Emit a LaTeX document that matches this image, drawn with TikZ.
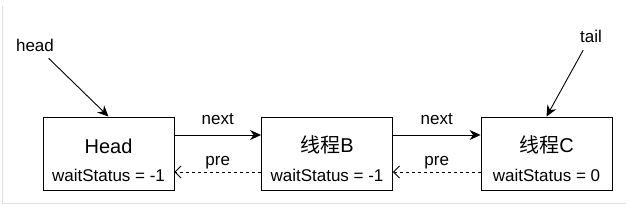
\documentclass[tikz,border=0pt]{standalone}
\usepackage{fontspec}
\setmainfont{Liberation Sans}
\newfontfamily\cjk{Noto Sans CJK SC}
\usetikzlibrary{arrows.meta}
\newcommand{\qtitle}[1]{\rule{0pt}{28pt}\fontsize{20}{24}\selectfont #1\\[14pt]}
\begin{document}
\begin{tikzpicture}[x=1pt, y=-1pt,
    qnode/.style={rectangle, draw, line width=0.9pt, minimum width=131pt,
                 minimum height=73pt, align=center, inner sep=0pt},
    nextarrow/.style={-{Stealth[length=11pt, width=10pt]}, line width=0.9pt},
    prearrow/.style={-{Straight Barb[length=6pt, width=12pt]}, dashed, line width=0.8pt},
    ptr/.style={-{Stealth[length=11pt, width=10pt]}, line width=0.9pt, shorten <=5pt},
    lbl/.style={font=\fontsize{17}{20}\selectfont}
]
    \useasboundingbox (0,0) rectangle (634,209);
    \draw[gray!25, line width=1pt] (2,6) -- (2,203) -- (626,203);

    \node[qnode] (head) at (108.5, 153.5) {\qtitle{Head}\fontsize{17}{20}\selectfont waitStatus = -1};
    \node[qnode] (thrB) at (327,   153.5) {\qtitle{{\cjk 线程}B}\fontsize{17}{20}\selectfont waitStatus = -1};
    \node[qnode] (thrC) at (546.5, 153.5) {\qtitle{{\cjk 线程}C}\fontsize{17}{20}\selectfont waitStatus = 0};

    \node[lbl] (headlbl) at (35, 45) {head};
    \node[lbl] (taillbl) at (591, 36) {tail};

    \draw[ptr] (headlbl) -- (head.north);
    \draw[ptr] (taillbl) -- (thrC.north);

    \draw[nextarrow] ([yshift=18.5pt]head.east) -- node[lbl, above=7pt]{next} ([yshift=18.5pt]thrB.west);
    \draw[nextarrow] ([yshift=18.5pt]thrB.east) -- node[lbl, above=7pt]{next} ([yshift=18.5pt]thrC.west);
    \draw[prearrow] ([yshift=-18.5pt]thrB.west) -- node[lbl, above=-1pt]{pre} ([yshift=-18.5pt]head.east);
    \draw[prearrow] ([yshift=-18.5pt]thrC.west) -- node[lbl, above=-1pt]{pre} ([yshift=-18.5pt]thrB.east);
\end{tikzpicture}
\end{document}
